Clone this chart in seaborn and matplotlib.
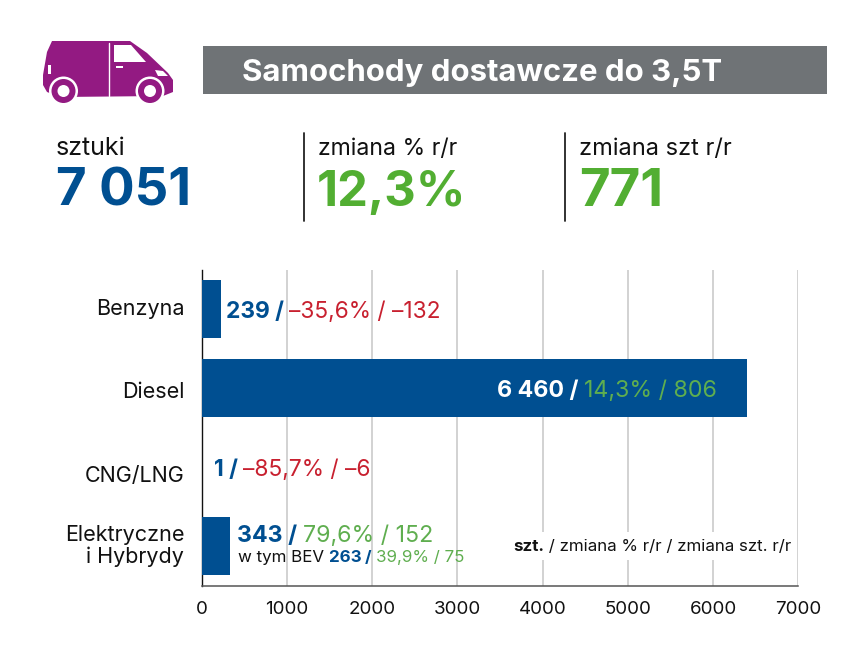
import matplotlib
matplotlib.use('Agg')
import matplotlib.pyplot as plt
from matplotlib.patches import Circle, Polygon, Rectangle
from matplotlib.transforms import ScaledTranslation
import pandas as pd
import seaborn as sns

# data
categories = ['Benzyna', 'Diesel', 'CNG/LNG', 'Elektryczne\ni Hybrydy']
bar_lengths = [230, 6400, 1, 335]  # as drawn in the picture
units_labels = ['239 / ', '6 460 / ', '1 / ', '343 / ']
change_labels = ['–35,6% / –132', '14,3% / 806', '–85,7% / –6', '79,6% / 152']
x_ticks = [0, 1000, 2000, 3000, 4000, 5000, 6000, 7000]

BLUE = '#004f91'
GREEN = '#52ae32'
SOFT_GREEN = '#5fae4f'
RED = '#c8202f'
GREY = '#6f7376'
PURPLE = '#931a82'
DARK = '#111111'

sns.set_theme(style='white')
plt.rcParams['font.family'] = ['Inter', 'DejaVu Sans']

fig = plt.figure(figsize=(8.49, 6.45), dpi=100)

# bar chart
ax = fig.add_axes([201.7 / 849, 1 - 585.5 / 645, 596.6 / 849, 316 / 645])
df = pd.DataFrame({'cat': categories, 'val': bar_lengths})
sns.barplot(data=df, x='val', y='cat', color=BLUE, saturation=1, width=0.74, linewidth=0, ax=ax, zorder=3)
ax.set_xlim(0, 7000)
ax.set_xticks(x_ticks)
ax.set_xlabel('')
ax.set_ylabel('')
ax.grid(axis='x', color='#cfcfcf', lw=1.3, zorder=0)
ax.set_axisbelow(True)
for s in ['top', 'right']:
    ax.spines[s].set_visible(False)
ax.spines['left'].set_color('#111111')
ax.spines['bottom'].set_color('#555555')
ax.spines['left'].set_linewidth(1)
ax.spines['bottom'].set_linewidth(1.1)
ax.tick_params(axis='x', length=6, width=1, color='#333333', direction='in', labelsize=13.5, labelcolor=DARK, pad=11.5)
ax.tick_params(axis='y', length=0, labelsize=15.5, labelcolor=DARK, pad=12.5)
# category labels do not sit exactly on the bar centres (offsets in points)
label_shift = [1.5, -1.5, -5, 2]
for lab, dy in zip(ax.get_yticklabels(), label_shift):
    lab.set_ha('right')
    lab.set_linespacing(1.1)
    lab.set_transform(lab.get_transform() + ScaledTranslation(0, dy / 72, fig.dpi_scale_trans))

# overlay in pixel coordinates for header and icon
top = fig.add_axes([0, 0, 1, 1], facecolor='none')
top.set_xlim(0, 849)
top.set_ylim(645, 0)
top.axis('off')

fig.canvas.draw()
renderer = fig.canvas.get_renderer()


def text_width(s, size, weight):
    # the x on both sides keeps trailing spaces in the measure
    a = top.text(0, 0, 'x' + s + 'x', fontsize=size, fontweight=weight, alpha=0)
    b = top.text(0, 0, 'xx', fontsize=size, fontweight=weight, alpha=0)
    w = a.get_window_extent(renderer).width - b.get_window_extent(renderer).width
    a.remove()
    b.remove()
    return w


def runs(x, y, parts, size):
    # write coloured pieces one after another on a baseline
    for s, color, weight in parts:
        top.text(x, y, s, color=color, fontweight=weight, fontsize=size, va='baseline', ha='left', zorder=10)
        x += text_width(s, size, weight)
    return x


# header band
top.add_patch(Rectangle((203, 46), 624, 48, color=GREY, lw=0))
top.text(242, 81, 'Samochody dostawcze do 3,5T', color='white', fontsize=22.4, fontweight='bold', va='baseline')

# van icon
body = [(52, 41), (130, 41), (147, 53), (168, 73), (173, 80), (173, 92), (163, 96),
        (60, 97), (47, 92), (43, 85), (43, 75), (47, 52)]
top.add_patch(Polygon(body, closed=True, color=PURPLE, lw=0, joinstyle='round'))
top.add_patch(Polygon([(114, 45), (131, 45), (146, 62), (114, 62)], closed=True, color='white', lw=0))
top.plot([109.5, 109.5], [43, 96], color='white', lw=1)
top.add_patch(Rectangle((116, 66), 7, 2, color='white', lw=0))
top.add_patch(Rectangle((48, 65), 3, 9, color='white', lw=0))
top.add_patch(Polygon([(155, 70), (163, 71), (168, 76), (158, 76)], closed=True, color='white', lw=0))
for cx in [63.5, 150]:
    top.add_patch(Circle((cx, 91), 14.5, color='white', lw=0))
    top.add_patch(Circle((cx, 91), 12, color=PURPLE, lw=0))
    top.add_patch(Circle((cx, 91), 6, color='white', lw=0))

# headline numbers
top.text(56, 155, 'sztuki', color=DARK, fontsize=18, va='baseline')
top.text(56, 206, '7 051', color=BLUE, fontsize=38, fontweight='bold', va='baseline')
top.text(318, 155, 'zmiana % r/r', color=DARK, fontsize=16.6, va='baseline')
top.text(317, 206, '12,3%', color=GREEN, fontsize=35.2, fontweight='bold', va='baseline')
top.text(579, 155, 'zmiana szt r/r', color=DARK, fontsize=17, va='baseline')
top.text(579, 206, '771', color=GREEN, fontsize=38, fontweight='bold', va='baseline')
top.plot([304, 304], [133, 221], color='#222222', lw=1.3)
top.plot([565.5, 565.5], [133, 221], color='#222222', lw=1.3)

# bar labels
runs(226, 318, [(units_labels[0], BLUE, 'bold'), (change_labels[0], RED, 'normal')], 16.4)
runs(497, 397, [(units_labels[1], 'white', 'bold'), (change_labels[1], SOFT_GREEN, 'normal')], 16.7)
runs(214, 476, [(units_labels[2], BLUE, 'bold'), (change_labels[2], RED, 'normal')], 16.4)
runs(237, 542, [(units_labels[3], BLUE, 'bold'), (change_labels[3], SOFT_GREEN, 'normal')], 16.7)
runs(238, 562, [('w tym BEV ', DARK, 'normal'), ('263 ', BLUE, 'bold'), ('/ ', BLUE, 'bold'),
                ('39,9% / 75', SOFT_GREEN, 'normal')], 12.2)

# key, white box cuts the grid lines
top.add_patch(Rectangle((508, 532), 288, 28, color='white', lw=0, zorder=5))
runs(513, 551, [('szt.', DARK, 'bold'), (' / zmiana % r/r / zmiana szt. r/r', DARK, 'normal')], 12.2)

fig.savefig('out.png', dpi=100)
